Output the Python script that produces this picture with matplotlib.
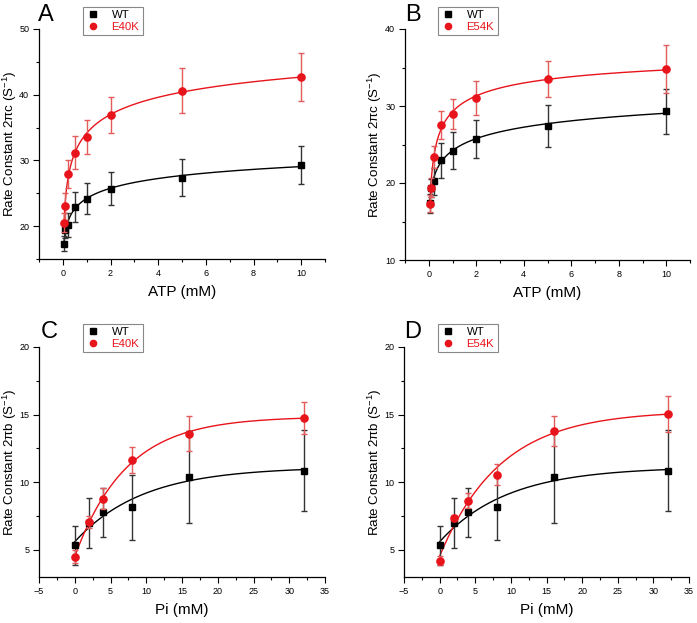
import numpy as np
import matplotlib
matplotlib.use("Agg")
import matplotlib.pyplot as plt
from matplotlib.ticker import MultipleLocator
from matplotlib.lines import Line2D

plt.rcParams['font.family'] = ['Liberation Sans', 'DejaVu Sans']
plt.rcParams['mathtext.fontset'] = 'custom'
plt.rcParams['mathtext.rm'] = 'Liberation Sans'
plt.rcParams['mathtext.it'] = 'Liberation Sans:italic'

# ---- data ----
atp = [0.05, 0.1, 0.2, 0.5, 1, 2, 5, 10]
wt_atp = [17.35, 19.35, 20.2, 22.95, 24.2, 25.7, 27.4, 29.3]
wt_atp_err = [1.2, 1.2, 1.8, 2.3, 2.4, 2.5, 2.75, 2.9]
e40k_atp = [20.55, 23.0, 27.9, 31.2, 33.6, 36.9, 40.6, 42.7]
e40k_atp_err = [1.5, 2.1, 2.1, 2.5, 2.6, 2.8, 3.4, 3.7]
e54k_atp = [17.3, 19.4, 23.4, 27.5, 28.95, 31.0, 33.5, 34.8]
e54k_atp_err = [1.1, 1.2, 1.4, 1.85, 1.95, 2.2, 2.35, 3.1]

pi = [0, 2, 4, 8, 16, 32]
wt_pi = [5.35, 7.0, 7.78, 8.15, 10.42, 10.87]
wt_pi_err = [1.45, 1.85, 1.8, 2.4, 3.4, 3.0]
e40k_pi = [4.5, 7.07, 8.8, 11.67, 13.6, 14.77]
e40k_pi_err = [0.5, 0.45, 0.75, 0.95, 1.3, 1.2]
e54k_pi = [4.21, 7.35, 8.65, 10.57, 13.78, 15.07]
e54k_pi_err = [0.35, 0.2, 0.55, 0.8, 1.1, 1.33]

panels = [
    dict(tag='A', mut='E40K', x=atp, wt=wt_atp, wte=wt_atp_err, m=e40k_atp, me=e40k_atp_err,
         kind='hill', xlim=(-1, 11), ylim=(15, 50), xmaj=2, ymaj=10, xlabel='ATP (mM)',
         ylabel='Rate Constant 2\u03c0c (S$^{-1}$)'),
    dict(tag='B', mut='E54K', x=atp, wt=wt_atp, wte=wt_atp_err, m=e54k_atp, me=e54k_atp_err,
         kind='hill', xlim=(-1, 11), ylim=(10, 40), xmaj=2, ymaj=10, xlabel='ATP (mM)',
         ylabel='Rate Constant 2\u03c0c (S$^{-1}$)'),
    dict(tag='C', mut='E40K', x=pi, wt=wt_pi, wte=wt_pi_err, m=e40k_pi, me=e40k_pi_err,
         kind='exp', xlim=(-5, 35), ylim=(3, 20), xmaj=5, ymaj=5, xlabel='Pi (mM)',
         ylabel='Rate Constant 2\u03c0b (S$^{-1}$)'),
    dict(tag='D', mut='E54K', x=pi, wt=wt_pi, wte=wt_pi_err, m=e54k_pi, me=e54k_pi_err,
         kind='exp', xlim=(-5, 35), ylim=(3, 20), xmaj=5, ymaj=5, xlabel='Pi (mM)',
         ylabel='Rate Constant 2\u03c0b (S$^{-1}$)'),
]


def basis(x, k, n, kind):
    if kind == 'hill':
        return x ** n / (k ** n + x ** n)
    return 1 - np.exp(-x / k)


def fit_curve(x, y, kind):
    x = np.asarray(x, float)
    y = np.asarray(y, float)
    best = None
    ks = np.logspace(-2.5, 2, 300)
    ns = np.linspace(0.3, 1.5, 61) if kind == 'hill' else [1.0]
    for n in ns:
        for k in ks:
            f = basis(x, k, n, kind)
            A = np.column_stack([np.ones_like(x), f])
            coef, *_ = np.linalg.lstsq(A, y, rcond=None)
            sse = np.sum((A @ coef - y) ** 2)
            if best is None or sse < best[0]:
                best = (sse, k, n, coef)
    _, k, n, coef = best
    xs = np.linspace(x.min(), x.max(), 400)
    ys = coef[0] + coef[1] * basis(xs, k, n, kind)
    return xs, ys


fig = plt.figure(figsize=(6.97, 6.23), dpi=100)
W, H = 697, 623
# axes boxes in pixels: left, right, top, bottom
boxes = {
    'A': (39, 325, 29, 259),
    'B': (405, 690, 29, 260),
    'C': (39, 325, 347, 577),
    'D': (404, 689, 347, 577),
}
ylab_right = {'A': 19.5, 'B': 384.5, 'C': 19.5, 'D': 383.5}
labpos = {'A': (38, 4), 'B': (405, 4), 'C': (41, 321), 'D': (404, 321)}
legpos = {'A': (83, 7), 'B': (438, 7), 'C': (83, 324), 'D': (438, 324)}

red = '#e8141b'
red_err = '#e35b5b'

for p in panels:
    tag = p['tag']
    l, r, t, b = boxes[tag]
    ax = fig.add_axes([l / W, 1 - b / H, (r - l) / W, (b - t) / H])
    for s in ('top', 'right'):
        ax.spines[s].set_visible(False)
    for s in ('left', 'bottom'):
        ax.spines[s].set_linewidth(0.9)

    xs, ys = fit_curve(p['x'], p['wt'], p['kind'])
    ax.plot(xs, ys, color='black', lw=1.0, zorder=2)
    xs, ys = fit_curve(p['x'], p['m'], p['kind'])
    ax.plot(xs, ys, color=red, lw=1.0, zorder=2)

    ax.errorbar(p['x'], p['wt'], yerr=p['wte'], fmt='s', color='black', ecolor='#333333',
                ms=4.2, elinewidth=1.0, capsize=2.5, capthick=1.0, zorder=3)
    ax.errorbar(p['x'], p['m'], yerr=p['me'], fmt='o', color=red, ecolor=red_err,
                ms=5.2, elinewidth=1.0, capsize=2.5, capthick=1.0, zorder=4)

    ax.set_xlim(*p['xlim'])
    ax.set_ylim(*p['ylim'])
    ax.xaxis.set_major_locator(MultipleLocator(p['xmaj']))
    ax.xaxis.set_minor_locator(MultipleLocator(p['xmaj'] / 2))
    ax.yaxis.set_major_locator(MultipleLocator(p['ymaj']))
    ax.yaxis.set_minor_locator(MultipleLocator(p['ymaj'] / 2))
    ax.tick_params(which='major', direction='out', length=4, width=0.8, labelsize=6.5, pad=3)
    ax.tick_params(which='minor', direction='out', length=2.5, width=0.8)
    ax.set_xlabel(p['xlabel'], fontsize=11, labelpad=5)
    ax.set_ylabel(p['ylabel'], fontsize=9.6)
    ax.yaxis.set_label_coords((ylab_right[tag] - l) / (r - l), 0.5)

    lx, ly = labpos[tag]
    fig.text(lx / W, 1 - ly / H, tag, fontsize=17, va='top', ha='left')

    gx, gy = legpos[tag]
    hh = [Line2D([], [], ls='none', marker='s', color='black', ms=4),
          Line2D([], [], ls='none', marker='o', color=red, ms=4.5)]
    leg = fig.legend(hh, ['WT', p['mut']], loc='upper left',
                     bbox_to_anchor=(gx / W, 1 - gy / H),
                     fontsize=8.2, frameon=True, fancybox=False, edgecolor='#888888',
                     framealpha=1, borderpad=0.3, handlelength=1.2, handletextpad=1.0,
                     labelspacing=0.1, borderaxespad=0)
    leg.get_frame().set_linewidth(0.8)
    leg.get_texts()[1].set_color(red)

fig.savefig('out.png', dpi=100)
